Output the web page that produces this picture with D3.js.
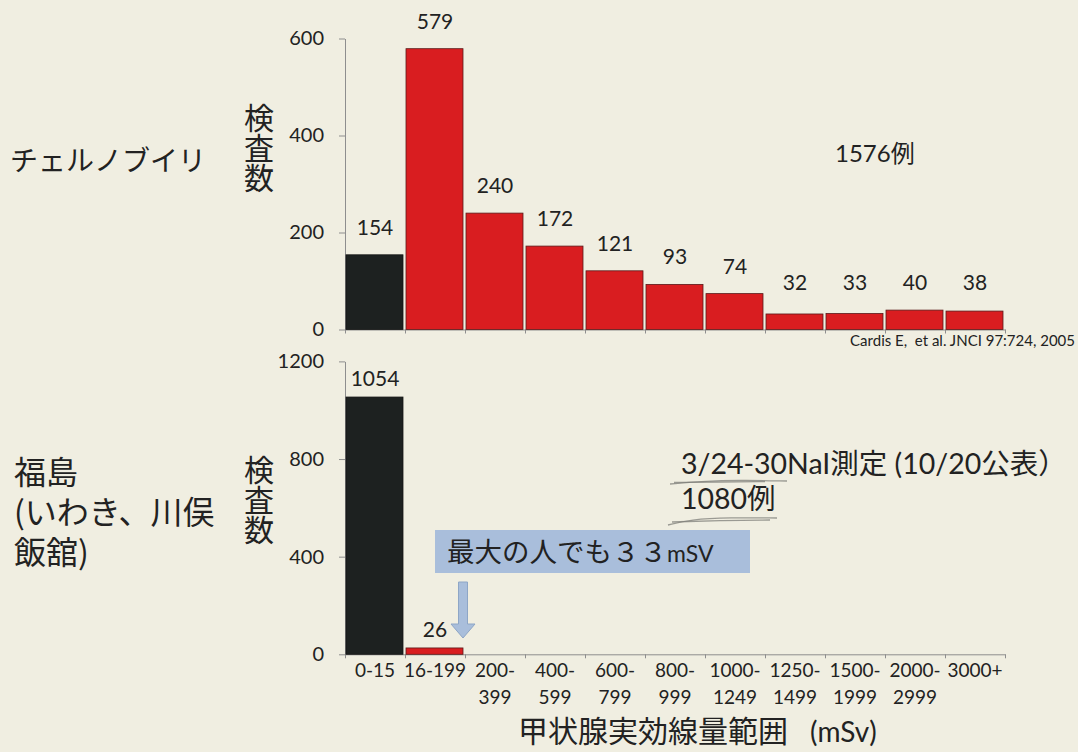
<!DOCTYPE html>
<html>
<head>
<meta charset="utf-8">
<script src="https://cdn.jsdelivr.net/npm/d3@7"></script>
<style>
  html, body { margin: 0; padding: 0; background: #f0eee1; }
  svg { display: block; }
  text { font-family: Lato, "Noto Sans CJK JP", sans-serif; fill: #222; }
  .jp { font-family: "Noto Sans CJK JP", sans-serif; }
</style>
</head>
<body>
<svg id="chart" width="1078" height="752"></svg>
<script>
// Dose bands (thyroid effective dose, mSv)
const categories = ["0-15", "16-199", "200-399", "400-599", "600-799", "800-999",
                    "1000-1249", "1250-1499", "1500-1999", "2000-2999", "3000+"];
// Tick labels, broken onto two lines after the hyphen
const tickLabels = ["0-15", "16-199", "200-\n399", "400-\n599", "600-\n799", "800-\n999",
                    "1000-\n1249", "1250-\n1499", "1500-\n1999", "2000-\n2999", "3000+"];
// Chernobyl: number of children examined per dose band (Cardis et al. 2005)
const chernobylValues = [154, 579, 240, 172, 121, 93, 74, 32, 33, 40, 38];
// Fukushima (Iwaki, Kawamata, Iitate), NaI survey 3/24-30
const fukushimaValues = [1054, 26];
const chernobylTicks = [0, 200, 400, 600];
const fukushimaTicks = [0, 400, 800, 1200];

const svg = d3.select("#chart");
const BLACK = "#1d2120", RED = "#d91d20", AXIS = "#8e8e8e";

const x = d3.scaleBand().domain(categories).range([345, 1005]).padding(0);
const xEdge = d3.scaleLinear().domain([0, categories.length]).range([345, 1005]);

function panel(values, yDomain, yRange, ticks, labelLift, labelFloor) {
  const y = d3.scaleLinear().domain(yDomain).range(yRange);
  const g = svg.append("g");

  // y axis
  const ya = g.append("g").attr("transform", `translate(${x.range()[0]},0)`)
    .call(d3.axisLeft(y).tickValues(ticks).tickFormat(d3.format("d"))
      .tickSize(6).tickPadding(15).tickSizeOuter(0));
  ya.selectAll("path, line").attr("stroke", AXIS);
  ya.selectAll("text").style("font-size", "20px").attr("fill", "#222").style("font-family", "Lato, sans-serif");

  // x axis: ticks on band boundaries
  const xa = g.append("g").attr("transform", `translate(0,${y(0)})`)
    .call(d3.axisBottom(xEdge).tickValues(d3.range(categories.length + 1)).tickSize(4).tickFormat("").tickSizeOuter(0));
  xa.selectAll("path, line").attr("stroke", AXIS);

  const data = values.map((v, i) => ({ c: categories[i], v, i }));

  g.selectAll("rect.bar").data(data).join("rect")
    .attr("class", "bar")
    .attr("x", d => x(d.c) + 1)
    .attr("width", x.bandwidth() - 3)
    .attr("y", d => y(d.v))
    .attr("height", d => y(0) - y(d.v))
    .attr("fill", d => d.i === 0 ? BLACK : RED)
    .attr("stroke", d => d.i === 0 ? "#151515" : "#5a1a1a")
    .attr("stroke-width", 0.8);

  g.selectAll("text.val").data(data).join("text")
    .attr("class", "val")
    .attr("x", d => x(d.c) + x.bandwidth() / 2)
    .attr("y", d => Math.min(y(d.v) - labelLift, labelFloor))
    .attr("text-anchor", "middle")
    .style("font-size", "21px")
    .text(d => d.v);

  return { g, y };
}

// Chernobyl panel
const upperPanel = panel(chernobylValues, [0, 600], [329.5, 38.5], chernobylTicks, 20, 290);
// Fukushima panel
const lowerPanel = panel(fukushimaValues, [0, 1200], [654.3, 361.4], fukushimaTicks, 11, 1000);

// category labels under the lower panel
const xl = svg.append("g").attr("transform", `translate(0,${lowerPanel.y(0)})`)
  .call(d3.axisBottom(x).tickSize(0).tickPadding(0));
xl.select(".domain").remove();
xl.selectAll("text").each(function(d, i) {
  const t = d3.select(this).text(null).attr("y", 0).attr("dy", null)
    .style("font-size", "19px").attr("fill", "#222").style("font-family", "Lato, sans-serif");
  tickLabels[i].split("\n").forEach((line, k) => {
    t.append("tspan").attr("x", 0).attr("y", 23 + k * 27).text(line);
  });
});

// vertical y-axis titles
function vTitle(cx, yTop) {
  svg.append("text").attr("class", "jp")
    .attr("x", cx).attr("y", yTop)
    .attr("writing-mode", "tb")
    .style("font-size", "30px")
    .text("検査数");
}
vTitle(259, 103);
vTitle(259, 455);

// group titles on the left
svg.append("text").attr("class", "jp").attr("x", 10).attr("y", 171)
  .style("font-size", "28px").text("チェルノブイリ");
const fk = svg.append("text").attr("class", "jp").style("font-size", "32px");
["福島", "(いわき、川俣", "飯舘)"].forEach((line, k) =>
  fk.append("tspan").attr("x", 14).attr("y", 484 + k * 40).text(line));

// case counts
svg.append("text").attr("x", 835).attr("y", 162).style("font-size", "24px").text("1576例");
svg.append("text").attr("x", 1075).attr("y", 346).attr("text-anchor", "end")
  .style("font-size", "15px").attr("xml:space", "preserve")
  .text("Cardis E,  et al. JNCI 97:724, 2005");

svg.append("text").attr("x", 681).attr("y", 474).style("font-size", "28.5px")
  .text("3/24-30NaI測定 (10/20公表）");
svg.append("text").attr("x", 681).attr("y", 509).style("font-size", "28.5px").text("1080例");

// pencil underlines
const pencil = d3.line().curve(d3.curveBasis);
[
  [[670, 484], [700, 481.5], [740, 480], [787, 481]],
  [[674, 482.5], [720, 482], [765, 481.5]],
  [[668, 525], [690, 519.5], [730, 517.5], [777, 518]],
  [[672, 522], [720, 520.5], [770, 520]]
].forEach(pts => svg.append("path").attr("d", pencil(pts))
  .attr("fill", "none").attr("stroke", "#7d7d78").attr("stroke-width", 1.3).attr("opacity", 0.75));

// callout box
svg.append("rect").attr("x", 435).attr("y", 530).attr("width", 315).attr("height", 43)
  .attr("fill", "#a9bedb");
const call = svg.append("text").attr("x", 447).attr("y", 562).attr("fill", "#333");
call.append("tspan").attr("class", "jp").style("font-size", "27.5px").text("最大の人でも３３");
call.append("tspan").style("font-size", "23px").text("mSV");

// arrow pointing at the 16-199 bar
const ax = x("16-199") + x.bandwidth() / 2 + 28;
svg.append("path")
  .attr("d", `M${ax - 4.5},582 L${ax + 4.5},582 L${ax + 4.5},624 L${ax + 12},624 L${ax},638 L${ax - 12},624 L${ax - 4.5},624 Z`)
  .attr("fill", "#a9bedb").attr("stroke", "#8ea6c6").attr("stroke-width", 1);

// x-axis title
const xt = svg.append("text").attr("x", 518).attr("y", 742);
xt.append("tspan").attr("class", "jp").style("font-size", "30px").text("甲状腺実効線量範囲");
xt.append("tspan").attr("dx", 22).style("font-size", "28px").text("(mSv)");
</script>
</body>
</html>
